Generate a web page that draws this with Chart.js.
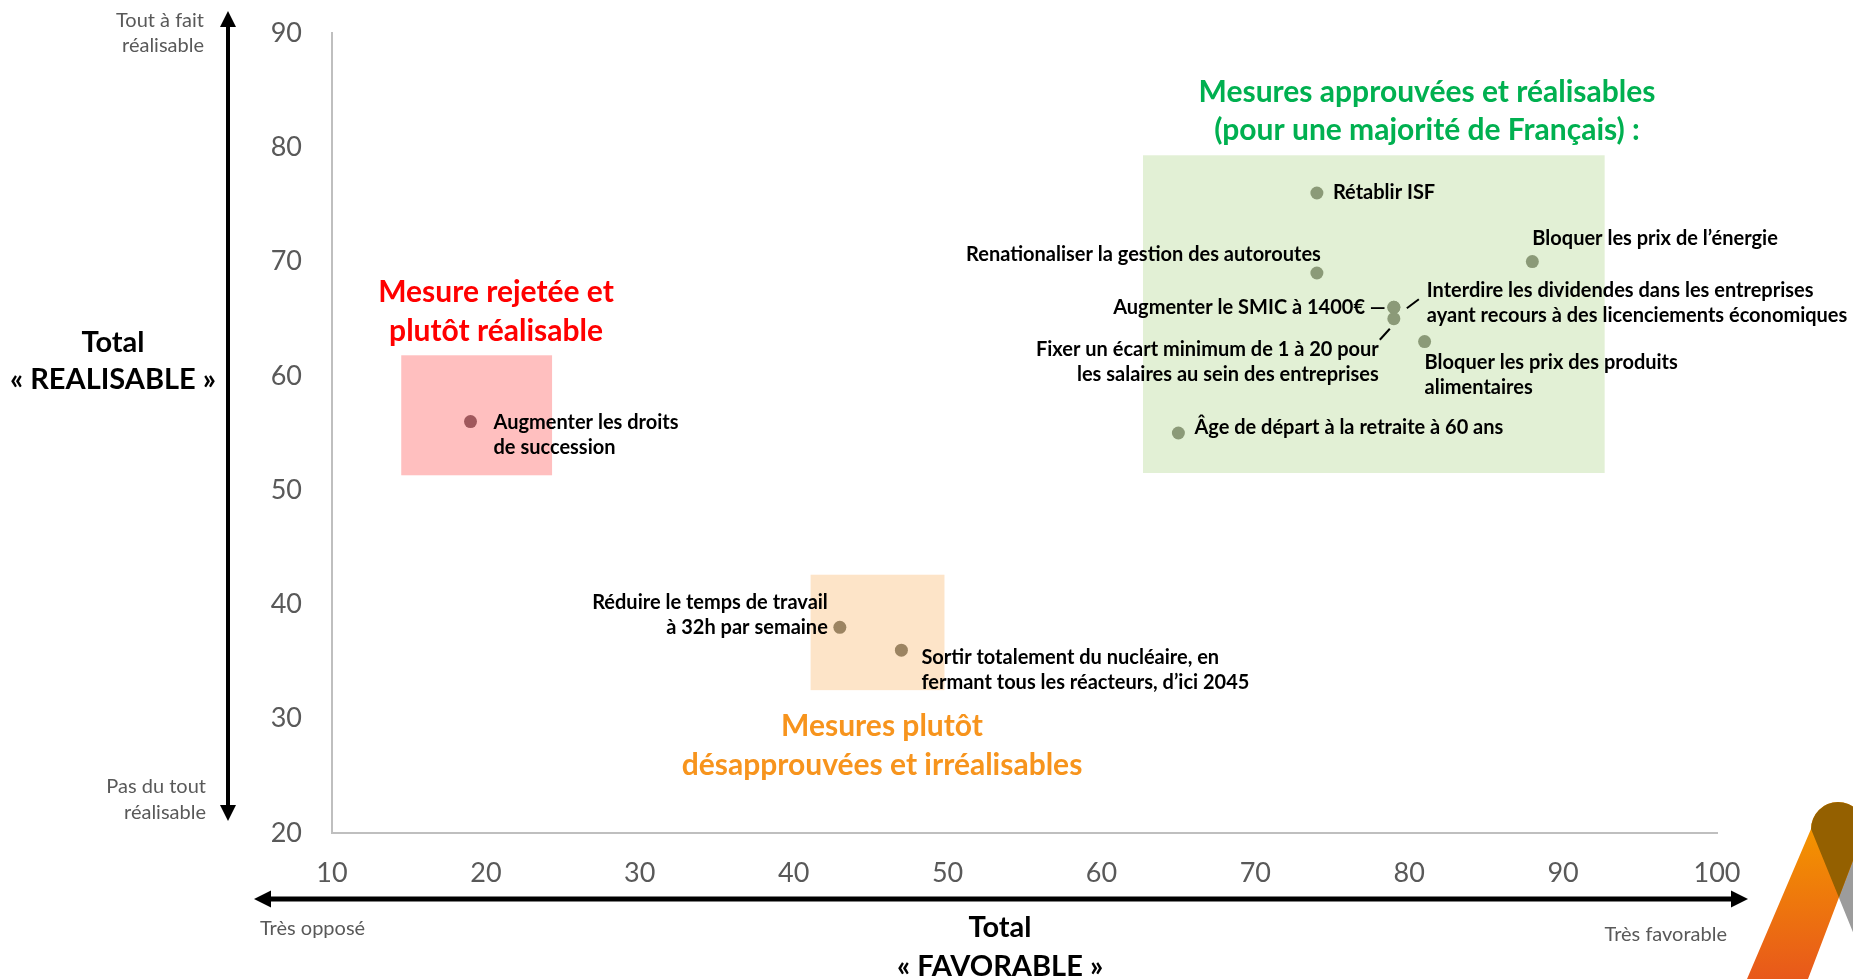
<!DOCTYPE html>
<html><head><meta charset="utf-8">
<script src="https://cdn.jsdelivr.net/npm/chart.js@4.4.1/dist/chart.umd.min.js"></script>
<style>html,body{margin:0;padding:0;background:#fff;overflow:hidden}canvas{display:block}</style>
</head><body>
<canvas id="c" width="1853" height="979"></canvas>
<script>
// ---- DATA ----
const measures = [
  "Augmenter les droits de succession",
  "Réduire le temps de travail à 32h par semaine",
  "Sortir totalement du nucléaire, en fermant tous les réacteurs, d’ici 2045",
  "Rétablir ISF",
  "Bloquer les prix de l’énergie",
  "Renationaliser la gestion des autoroutes",
  "Augmenter le SMIC à 1400€",
  "Interdire les dividendes dans les entreprises ayant recours à des licenciements économiques",
  "Fixer un écart minimum de 1 à 20 pour les salaires au sein des entreprises",
  "Bloquer les prix des produits alimentaires",
  "Âge de départ à la retraite à 60 ans"
];
const favorable  = [19, 43, 47, 74, 88, 74, 79, 79, 79, 81, 65];
const realisable = [56, 38, 36, 76, 70, 69, 66, 66, 65, 63, 55];
const groups     = ["rejet", "desap", "desap", "appr", "appr", "appr", "appr", "appr", "appr", "appr", "appr"];
const xTicks = [10, 20, 30, 40, 50, 60, 70, 80, 90, 100];
const yTicks = [20, 30, 40, 50, 60, 70, 80, 90];
// zones (data units)
const zoneX0 = [14.5, 41.1, 62.7];
const zoneX1 = [24.3, 49.8, 92.7];
const zoneY0 = [51.3, 32.5, 51.5];
const zoneY1 = [61.8, 42.6, 79.3];

// ---- STYLE / PLACEMENT ----
const FONT = "Lato";
const zoneColors = ["#FFBFBF", "#FDE4C8", "#E2F0D5"];
const groupColor = {rejet: "#A0585C", desap: "#9C8462", appr: "#8B9A78"};
const labelLines = [
  ["Augmenter les droits", "de succession"],
  ["Réduire le temps de travail", "à 32h par semaine"],
  ["Sortir totalement du nucléaire, en", "fermant tous les réacteurs, d’ici 2045"],
  ["Rétablir ISF"],
  ["Bloquer les prix de l’énergie"],
  ["Renationaliser la gestion des autoroutes"],
  ["Augmenter le SMIC à 1400€ —"],
  ["Interdire les dividendes dans les entreprises", "ayant recours à des licenciements économiques"],
  ["Fixer un écart minimum de 1 à 20 pour", "les salaires au sein des entreprises"],
  ["Bloquer les prix des produits", "alimentaires"],
  ["Âge de départ à la retraite à 60 ans"]
];
const labelAlign = ["left","right","left","left","left","right","right","left","right","left","left"];
const labelDx = [23, -12, 20, 16, 0, 4, -8, 33, -15, 0, 16];
const labelDy = [1, -25, 7, 0, -23, -18, 0, -17, 31, 21, -5];
const lineGap = 25;

const scatterData = favorable.map((x, i) => ({x, y: realisable[i]}));

const bgPlugin = {
  id: 'zones',
  beforeDatasetsDraw(chart) {
    const {ctx, scales: {x, y}} = chart;
    ctx.save();
    for (let i = 0; i < zoneX0.length; i++) {
      const px0 = x.getPixelForValue(zoneX0[i]), px1 = x.getPixelForValue(zoneX1[i]);
      const py0 = y.getPixelForValue(zoneY1[i]), py1 = y.getPixelForValue(zoneY0[i]);
      ctx.fillStyle = zoneColors[i];
      ctx.fillRect(px0, py0, px1 - px0, py1 - py0);
    }
    ctx.restore();
  }
};

function arrowHead(ctx, x, y, dir, w, l) {
  ctx.beginPath();
  if (dir === 'up') { ctx.moveTo(x, y); ctx.lineTo(x - w/2, y + l); ctx.lineTo(x + w/2, y + l); }
  if (dir === 'down') { ctx.moveTo(x, y); ctx.lineTo(x - w/2, y - l); ctx.lineTo(x + w/2, y - l); }
  if (dir === 'left') { ctx.moveTo(x, y); ctx.lineTo(x + l, y - w/2); ctx.lineTo(x + l, y + w/2); }
  if (dir === 'right') { ctx.moveTo(x, y); ctx.lineTo(x - l, y - w/2); ctx.lineTo(x - l, y + w/2); }
  ctx.closePath(); ctx.fill();
}

const overlayPlugin = {
  id: 'overlay',
  afterDraw(chart) {
    const {ctx} = chart;
    const meta = chart.getDatasetMeta(0);
    ctx.save();
    ctx.fillStyle = "#000";
    ctx.font = `bold 20px ${FONT}`;
    ctx.textBaseline = "middle";
    meta.data.forEach((pt, i) => {
      ctx.textAlign = labelAlign[i];
      labelLines[i].forEach((t, k) => {
        ctx.fillText(t, pt.x + labelDx[i], pt.y + labelDy[i] + k * lineGap);
      });
    });
    ctx.strokeStyle = "#000"; ctx.lineWidth = 2;
    const p7 = meta.data[7], p8 = meta.data[8];
    ctx.beginPath(); ctx.moveTo(p7.x + 13, p7.y + 1); ctx.lineTo(p7.x + 25, p7.y - 8); ctx.stroke();
    ctx.beginPath(); ctx.moveTo(p8.x - 4, p8.y + 10); ctx.lineTo(p8.x - 14, p8.y + 21); ctx.stroke();

    ctx.textAlign = "center";
    ctx.font = `bold 30px ${FONT}`;
    ctx.fillStyle = "#00B050";
    ctx.fillText("Mesures approuvées et réalisables", 1427, 92);
    ctx.fillText("(pour une majorité de Français) :", 1427, 130);
    ctx.fillStyle = "#FF0000";
    ctx.fillText("Mesure rejetée et", 496, 292);
    ctx.fillText("plutôt réalisable", 496, 331);
    ctx.fillStyle = "#F7941D";
    ctx.fillText("Mesures plutôt", 882, 726);
    ctx.fillText("désapprouvées et irréalisables", 882, 765);

    ctx.fillStyle = "#000"; ctx.strokeStyle = "#000";
    ctx.lineWidth = 4;
    ctx.beginPath(); ctx.moveTo(228, 24); ctx.lineTo(228, 808); ctx.stroke();
    arrowHead(ctx, 228, 11, 'up', 16, 16);
    arrowHead(ctx, 228, 821, 'down', 16, 16);
    ctx.lineWidth = 5;
    ctx.beginPath(); ctx.moveTo(266, 899); ctx.lineTo(1736, 899); ctx.stroke();
    arrowHead(ctx, 254, 899, 'left', 17, 17);
    arrowHead(ctx, 1748, 899, 'right', 17, 17);

    ctx.fillStyle = "#595959";
    ctx.font = `20px ${FONT}`;
    ctx.textAlign = "right";
    ctx.fillText("Tout à fait", 204, 21);
    ctx.fillText("réalisable", 204, 46);
    ctx.fillText("Pas du tout", 206, 787);
    ctx.fillText("réalisable", 206, 813);
    ctx.fillText("Très favorable", 1727, 935);
    ctx.textAlign = "left";
    ctx.fillText("Très opposé", 260, 929);

    ctx.fillStyle = "#000";
    ctx.font = `bold 29px ${FONT}`;
    ctx.textAlign = "center";
    ctx.fillText("Total", 113, 343);
    ctx.fillText("« REALISABLE »", 113, 380);
    ctx.fillText("Total", 1000, 928);
    ctx.fillText("« FAVORABLE »", 1000, 967);

    // logo (decoration)
    const cx = 1838, cy = 829, r = 27;
    const gray = new Path2D();
    gray.moveTo(1811, 829); gray.lineTo(1865, 829); gray.lineTo(1930, 979); gray.lineTo(1872, 979); gray.closePath();
    gray.moveTo(cx + r, cy); gray.arc(cx, cy, r, 0, Math.PI, true);
    const orange = new Path2D();
    orange.moveTo(1811, 829); orange.lineTo(1865, 829); orange.lineTo(1808, 979); orange.lineTo(1747, 979); orange.closePath();
    orange.moveTo(cx + r, cy); orange.arc(cx, cy, r, 0, Math.PI, true);
    ctx.fillStyle = "#9C9C9C"; ctx.fill(gray);
    const g = ctx.createLinearGradient(0, 835, 0, 979);
    g.addColorStop(0, "#F39200"); g.addColorStop(1, "#E8581B");
    ctx.fillStyle = g; ctx.fill(orange);
    ctx.save(); ctx.clip(gray); ctx.fillStyle = "#946000"; ctx.fill(orange); ctx.restore();

    ctx.restore();
  }
};

new Chart(document.getElementById('c'), {
  type: 'scatter',
  data: {
    datasets: [{
      data: scatterData,
      pointRadius: 6.5,
      pointHoverRadius: 6.5,
      pointBorderWidth: 0,
      backgroundColor: groups.map(g => groupColor[g]),
      borderColor: groups.map(g => groupColor[g])
    }]
  },
  options: {
    responsive: false,
    animation: false,
    events: [],
    layout: {padding: {left: 0, right: 136, top: 33, bottom: 0}},
    plugins: {legend: {display: false}, tooltip: {enabled: false}},
    scales: {
      x: {
        type: 'linear', min: 10, max: 100,
        afterBuildTicks: s => { s.ticks = xTicks.map(v => ({value: v})); },
        afterFit: s => { s.height = 146; s.paddingLeft = 0; s.paddingRight = 0; },
        grid: {display: false, drawTicks: false},
        border: {display: true, color: "#BFBFBF", width: 2},
        ticks: {color: "#595959", font: {family: FONT, size: 27}, padding: 24, maxRotation: 0}
      },
      y: {
        type: 'linear', min: 20, max: 90,
        afterBuildTicks: s => { s.ticks = yTicks.map(v => ({value: v})); },
        afterFit: s => { s.width = 332; s.paddingTop = 0; s.paddingBottom = 0; },
        grid: {display: false, drawTicks: false},
        border: {display: true, color: "#BFBFBF", width: 2},
        ticks: {color: "#595959", font: {family: FONT, size: 27}, padding: 30}
      }
    }
  },
  plugins: [bgPlugin, overlayPlugin]
});
</script>
</body></html>
